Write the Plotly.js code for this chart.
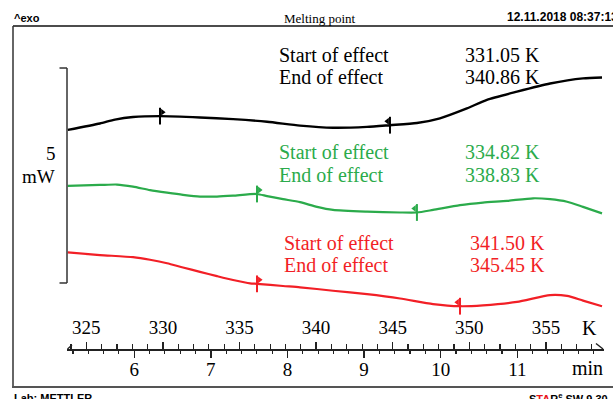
<!DOCTYPE html>
<html>
<head>
<meta charset="utf-8">
<script src="https://cdn.plot.ly/plotly-3.0.1.min.js"></script>
<style>
  html, body { margin: 0; padding: 0; background: #fff; }
  #chart { width: 613px; height: 399px; }
</style>
</head>
<body>
<div id="chart"></div>
<script>
// DSC melting-point runs: heat flow (mW) against sample temperature (K)
const blackK  = [323.79, 325.89, 326.87, 328.05, 329.81, 332.42, 334.58, 336.80, 338.95, 341.10,
                 343.32, 344.82, 346.58, 348.08, 349.84, 351.15, 353.11, 355.27, 357.42, 358.66];
const blackMW = [3.56, 3.71, 3.80, 3.86, 3.88, 3.85, 3.81, 3.75, 3.66, 3.61,
                 3.63, 3.67, 3.72, 3.83, 4.06, 4.26, 4.45, 4.64, 4.76, 4.78];

const greenK  = [323.79, 325.89, 327.00, 328.05, 329.16, 330.27, 331.31, 332.42, 333.53, 334.58,
                 336.14, 336.80, 337.84, 338.95, 340.06, 341.10, 343.32, 345.48, 346.58, 347.63,
                 349.39, 350.89, 352.46, 354.16, 355.27, 356.38, 357.42, 358.66];
const greenMW = [2.26, 2.28, 2.29, 2.24, 2.16, 2.10, 2.05, 2.01, 2.01, 2.03,
                 2.07, 2.02, 1.95, 1.88, 1.77, 1.70, 1.66, 1.64, 1.64, 1.70,
                 1.81, 1.87, 1.91, 1.97, 1.95, 1.89, 1.77, 1.62];

const redK    = [323.79, 325.89, 328.05, 329.16, 330.27, 331.31, 332.42, 333.53, 334.58, 335.69,
                 336.14, 337.84, 338.95, 341.10, 343.32, 345.48, 347.63, 349.39, 350.89, 353.11,
                 355.27, 356.38, 357.42, 358.66];
const redMW   = [0.71, 0.65, 0.60, 0.54, 0.46, 0.36, 0.26, 0.16, 0.07, -0.01,
                 -0.02, -0.07, -0.10, -0.18, -0.26, -0.36, -0.49, -0.54, -0.52, -0.44,
                 -0.28, -0.30, -0.41, -0.54];

// integration limits (K) marked on each curve
const blackLimits = [329.81, 344.82];
const greenLimits = [336.14, 346.58];
const redLimits   = [336.14, 349.39];

// evaluated onset / endset temperatures (K)
const effectStart = [331.05, 334.82, 341.50];
const effectEnd   = [340.86, 338.83, 345.45];
const effectLabels = ['Start of effect', 'End of effect'];

// axis tick labels
const kelvinTicks = [325, 330, 335, 340, 345, 350, 355];
const minuteTicks = [6, 7, 8, 9, 10, 11];

// scale bar length (mW)
const scaleBarMW = 5;

// heating programme: 5 K/min, time 0 at 298.13 K
const heatingRate = 5;
const startK = 298.13;

// ---------- layout geometry ----------
const W = 613, H = 399;
const M = { l: 67, r: 9, t: 26, b: 12 };
const plotW = W - M.l - M.r;
const plotH = H - M.t - M.b;
const px = x => (x - M.l) / plotW;          // page pixel -> paper x
const py = y => (H - M.b - y) / plotH;      // page pixel -> paper y

const kRange = [323.74, 358.79];
const minRange = kRange.map(k => (k - startK) / heatingRate);
const yRange = [-2.419, 5.977];
const pxPerK = plotW / (kRange[1] - kRange[0]);
const pxPerMW = plotH / (yRange[1] - yRange[0]);
const axisPos = py(349);

const COLORS = ['#000000', '#2bab4b', '#f21f26'];
const SERIF = 'Liberation Serif, Times New Roman, serif';
const SANS = 'Liberation Sans, Arial, sans-serif';

function interp(xs, ys, x) {
  for (let i = 0; i < xs.length - 1; i++) {
    if (x >= xs[i] && x <= xs[i + 1]) {
      const f = (x - xs[i]) / (xs[i + 1] - xs[i]);
      return ys[i] + f * (ys[i + 1] - ys[i]);
    }
  }
  return ys[ys.length - 1];
}

const curves = [
  { k: blackK, mw: blackMW, lim: blackLimits, color: COLORS[0], w: 2.4 },
  { k: greenK, mw: greenMW, lim: greenLimits, color: COLORS[1], w: 2.2 },
  { k: redK,   mw: redMW,   lim: redLimits,   color: COLORS[2], w: 2.2 }
];

const traces = [];
curves.forEach(c => {
  traces.push({
    x: c.k, y: c.mw, type: 'scatter', mode: 'lines', xaxis: 'x', yaxis: 'y',
    line: { color: c.color, width: c.w, shape: 'spline', smoothing: 0.6 },
    hoverinfo: 'skip'
  });
  const ly = c.lim.map(k => interp(c.k, c.mw, k));
  // limit ticks
  traces.push({
    x: c.lim, y: ly, type: 'scatter', mode: 'markers', xaxis: 'x', yaxis: 'y',
    marker: { symbol: 'line-ns-open', size: 12, color: c.color, line: { color: c.color, width: 2 } },
    hoverinfo: 'skip'
  });
  // limit flags: start points right, end points left
  const dk = 2.6 / pxPerK, dy = 4 / pxPerMW;
  traces.push({
    x: [c.lim[0] + dk, c.lim[1] - dk], y: ly.map(v => v + dy),
    type: 'scatter', mode: 'markers', xaxis: 'x', yaxis: 'y',
    marker: { symbol: ['triangle-right', 'triangle-left'], size: 6, color: c.color, line: { width: 0 } },
    hoverinfo: 'skip'
  });
});
// time axes carriers (invisible)
['x2', 'x3'].forEach(ax => traces.push({ x: minRange, y: [yRange[0], yRange[0]], xaxis: ax, yaxis: 'y',
  type: 'scatter', mode: 'lines', line: { width: 0 }, hoverinfo: 'skip' }));

// ---------- text ----------
const annotations = [];
const rows = [
  { x0: 277, x1: 463, y: [55, 77] },
  { x0: 277, x1: 463, y: [152, 175] },
  { x0: 282, x1: 468, y: [243, 265] }
];
rows.forEach((r, i) => {
  const vals = [effectStart[i], effectEnd[i]];
  [0, 1].forEach(j => {
    annotations.push({ xref: 'paper', yref: 'paper', x: px(r.x0), y: py(r.y[j]),
      xanchor: 'left', yanchor: 'middle', showarrow: false, text: effectLabels[j],
      font: { family: SERIF, size: 20, color: COLORS[i] } });
    annotations.push({ xref: 'paper', yref: 'paper', x: px(r.x1), y: py(r.y[j]),
      xanchor: 'left', yanchor: 'middle', showarrow: false, text: vals[j].toFixed(2) + ' K',
      font: { family: SERIF, size: 20, color: COLORS[i] } });
  });
});
const txt = (text, x, y, xa, font) => annotations.push({ xref: 'paper', yref: 'paper',
  x: px(x), y: py(y), xanchor: xa, yanchor: 'middle', showarrow: false, text, font });
txt('K', 589, 328, 'center', { family: SERIF, size: 20, color: '#000' });
txt('min', 587, 368, 'center', { family: SERIF, size: 20, color: '#000' });
txt(String(scaleBarMW), 51, 153, 'center', { family: SERIF, size: 19, color: '#000' });
txt('mW', 38, 176, 'center', { family: SERIF, size: 19, color: '#000' });
txt('^exo', 12, 18, 'left', { family: SANS, size: 11, color: '#000', weight: 'bold' });
txt('Melting point', 320, 19, 'center', { family: SERIF, size: 13, color: '#000' });
txt('12.11.2018 08:37:13', 505, 17, 'left', { family: SANS, size: 12, color: '#000', weight: 'bold' });
txt('Lab: METTLER', 12, 398, 'left', { family: SANS, size: 11, color: '#000', weight: 'bold' });
txt('S<span style="color:#e8141c">TA</span>R<sup>e</sup> SW 9.30', 527, 398, 'left',
    { family: SANS, size: 11, color: '#000', weight: 'bold' });

// ---------- frame, scale bar, axis arrows ----------
const shapes = [
  { type: 'line', xref: 'paper', yref: 'paper', x0: px(13), x1: px(620), y0: py(26), y1: py(26),
    line: { color: '#111', width: 1.5 } },
  { type: 'line', xref: 'paper', yref: 'paper', x0: px(13), x1: px(13), y0: py(26), y1: py(387),
    line: { color: '#333', width: 1.5 } },
  { type: 'line', xref: 'paper', yref: 'paper', x0: px(12), x1: px(620), y0: py(387), y1: py(387),
    line: { color: '#555', width: 2.2 } },
  // scale bar
  { type: 'line', xref: 'paper', yref: 'y', x0: px(67), x1: px(67), y0: 0, y1: scaleBarMW,
    line: { color: '#333', width: 1.5 } },
  { type: 'line', xref: 'paper', yref: 'y', x0: px(59.5), x1: px(67), y0: 0, y1: 0,
    line: { color: '#333', width: 1.5 } },
  { type: 'line', xref: 'paper', yref: 'y', x0: px(59.5), x1: px(67), y0: scaleBarMW, y1: scaleBarMW,
    line: { color: '#333', width: 1.5 } },
  // arrow heads at both ends of the temperature axis
  { type: 'line', xref: 'paper', yref: 'paper', x0: px(596), x1: px(603), y0: py(343.5), y1: py(349),
    line: { color: '#222', width: 1.4 } },
  { type: 'line', xref: 'paper', yref: 'paper', x0: px(67.5), x1: px(72), y0: py(349), y1: py(345),
    line: { color: '#222', width: 1.3 } }
];

const tickFont = { family: SERIF, size: 19, color: '#000' };
const minuteAxisBase = {
  range: minRange, overlaying: 'x', side: 'bottom', anchor: 'free', position: axisPos,
  tickmode: 'array', tickvals: minuteTicks, ticktext: minuteTicks.map(String),
  tickwidth: 1.3, tickcolor: '#222', ticks: 'outside',
  showline: false, showgrid: false, zeroline: false, tickfont: tickFont, fixedrange: true
};
const layout = {
  width: W, height: H,
  margin: { l: M.l, r: M.r, t: M.t, b: M.b, pad: 0 },
  paper_bgcolor: '#fff', plot_bgcolor: 'rgba(0,0,0,0)',
  showlegend: false,
  xaxis: {
    range: kRange, side: 'top', anchor: 'free', position: axisPos,
    tickmode: 'array', tickvals: kelvinTicks, ticktext: kelvinTicks.map(String),
    ticks: 'outside', ticklen: 7, tickwidth: 1.3, tickcolor: '#222',
    minor: { tickmode: 'linear', tick0: 0, dtick: 1, ticks: 'outside', ticklen: 5, tickwidth: 1.1, tickcolor: '#222' },
    showline: true, linecolor: '#222', linewidth: 1.5,
    showgrid: false, zeroline: false, tickfont: tickFont, fixedrange: true
  },
  // minute labels with short minor ticks
  xaxis2: Object.assign({}, minuteAxisBase, {
    ticklen: 3,
    minor: { tickmode: 'linear', tick0: 0, dtick: 0.2, ticks: 'outside', ticklen: 4, tickwidth: 1.1, tickcolor: '#222' }
  }),
  // longer whole-minute ticks
  xaxis3: Object.assign({}, minuteAxisBase, { ticklen: 8, showticklabels: false }),
  yaxis: { range: yRange, visible: false, showgrid: false, zeroline: false, fixedrange: true },
  shapes, annotations
};

Plotly.newPlot('chart', traces, layout, { displayModeBar: false, staticPlot: true });
</script>
</body>
</html>
